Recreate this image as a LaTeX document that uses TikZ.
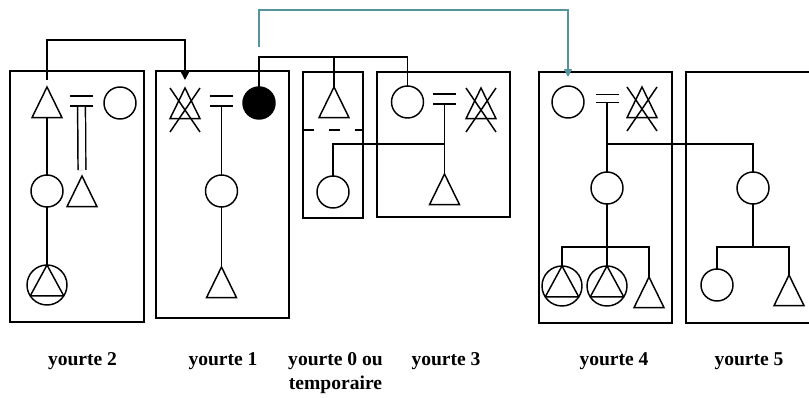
\documentclass[tikz,border=0pt]{standalone}
\usepackage{fontspec}
\setmainfont{Liberation Serif}
\usetikzlibrary{shapes.geometric,arrows.meta}

\definecolor{linkteal}{RGB}{85,148,158}

\tikzset{
	sign/.style={draw,inner sep=0,outer sep=0},
	male/.style={sign,isosceles triangle,shape border rotate=90,isosceles triangle stretches,minimum width=0.9cm,minimum height=0.92cm,anchor=apex},
	female/.style={sign,circle,minimum size=0.96cm},
	lost/.style={female,fill=black},
	elder/.style={sign,circle,minimum size=1.2cm,path picture={
		\draw ([shift={(90:0.6cm)}]path picture bounding box.center) -- ([shift={(213:0.6cm)}]path picture bounding box.center) -- ([shift={(327:0.6cm)}]path picture bounding box.center) -- cycle;}},
	wed/.style={rectangle,inner sep=0,outer sep=0,minimum width=0.69cm,minimum height=0.3cm,
		append after command={(\tikzlastnode.north west) edge (\tikzlastnode.north east) (\tikzlastnode.south west) edge (\tikzlastnode.south east)}},
	yurt/.style={line width=1.35pt},
	tag/.style={font=\bfseries\fontsize{16.7}{20.5}\selectfont,inner sep=0,anchor=north,align=center}
}

\newcommand{\deceased}[1]{\draw ([xshift=-0.45cm]#1.apex) -- ([xshift=0.45cm,yshift=-1.32cm]#1.apex) ([xshift=0.45cm]#1.apex) -- ([xshift=-0.45cm,yshift=-1.32cm]#1.apex);}

\begin{document}
\begin{tikzpicture}[x=0.3cm,y=-0.3cm,line width=1.25pt]
	\useasboundingbox (0,0) rectangle (80.9,39.7);

	\draw[yurt] (1.0,7.1) rectangle (14.4,32.2);
	\draw[yurt] (15.6,7.1) rectangle (28.9,31.8);
	\draw[yurt] (30.3,7.2) rectangle (36.3,21.8);
	\draw[yurt] (37.7,7.2) rectangle (51.0,21.7);
	\draw[yurt] (53.9,7.2) rectangle (67.2,32.3);
	\draw[yurt] (80.9,7.2) -- (68.6,7.2) -- (68.6,32.3) -- (80.9,32.3);

	\node[male] (t2a) at (4.7,8.7) {};
	\node[wed] (w2) at (8.15,10.1) {};
	\node[female] (c2a) at (12.0,10.3) {};
	\node[male] (t2b) at (8.2,17.6) {};
	\node[female] (c2b) at (4.7,19.1) {};
	\node[elder] (e2) at (4.7,28.5) {};

	\node[male] (t1a) at (18.5,8.8) {};
	\node[wed] (w1) at (22.15,10.1) {};
	\node[lost] (c1a) at (25.9,10.3) {};
	\node[female] (c1b) at (22.15,19.1) {};
	\node[male] (t1b) at (22.15,26.7) {};

	\node[male] (t0) at (33.4,8.7) {};
	\node[female] (c0) at (33.3,19.2) {};

	\node[female] (c3a) at (40.75,10.2) {};
	\node[wed] (w3) at (44.45,9.9) {};
	\node[male] (t3a) at (48.1,8.8) {};
	\node[male] (t3b) at (44.45,17.4) {};

	\node[female] (c4a) at (56.8,10.2) {};
	\node[wed,minimum height=0.24cm] (w4) at (60.7,9.85) {};
	\node[male] (t4a) at (64.2,8.7) {};
	\node[female] (c4b) at (60.7,18.8) {};
	\node[elder] (e4a) at (56.2,28.6) {};
	\node[elder] (e4b) at (60.7,28.6) {};
	\node[male] (t4b) at (64.9,27.7) {};

	\node[female] (c5a) at (75.3,18.8) {};
	\node[female] (c5b) at (71.7,28.5) {};
	\node[male] (t5) at (78.9,27.5) {};

	\deceased{t1a}
	\deceased{t3a}
	\deceased{t4a}

	\draw[dash pattern=on 0.33cm off 0.45cm] (30.3,13.0) -- (36.3,13.0);

	\draw (t2a.lower side) -- (c2b.north);
	\draw (c2b.south) -- (e2.north);
	\draw[double,double distance=0.19cm,shorten <=0.7pt,shorten >=0.18cm] (w2.south) -- (t2b.apex);

	\draw (w1.south) -- (c1b.north);
	\draw (c1b.south) -- (t1b.apex);

	\draw (c1a.north) -- ++(0,-3) -| (c3a.north);
	\draw (t0.apex) -- ++(0,-3);
	\draw (w3.south) -- (t3b.apex);
	\draw (c0.north) -- ++(0,-3.2) -| (w3.south);

	\draw (w4.south) -- (c4b.north);
	\draw (w4.south) -- ++(0,4.15) -| (c5a.north);
	\draw (c4b.south) -- (e4b.north);
	\draw (e4a.north) -- ++(0,-1.9) -| (t4b.apex);
	\draw (c5a.south) -- ++(0,4.3);
	\draw (c5b.north) -- ++(0,-2.2) -| (t5.apex);

	\draw[-{Triangle[length=0.24cm,width=0.24cm]},shorten <=0.21cm,shorten >=0.24cm] (t2a.apex) -- ++(0,-4.7) -| (t1a.apex);
	\coordinate (ts) at (25.9,4.7);
	\draw[linkteal,-{Triangle[length=0.24cm,width=0.24cm]},shorten >=0.27cm] (ts) -- ++(0,-3.7) -| (c4a.north);

	\node[tag] (l2) at (8.25,35.2) {yourte 2};
	\node[tag] (l1) at (22.3,35.2) {yourte 1};
	\node[tag] (l0) at (33.55,35.2) {yourte 0 ou\\temporaire};
	\node[tag] (l3) at (44.6,35.2) {yourte 3};
	\node[tag] (l4) at (61.4,35.2) {yourte 4};
	\node[tag] (l5) at (74.9,35.2) {yourte 5};
\end{tikzpicture}
\end{document}
